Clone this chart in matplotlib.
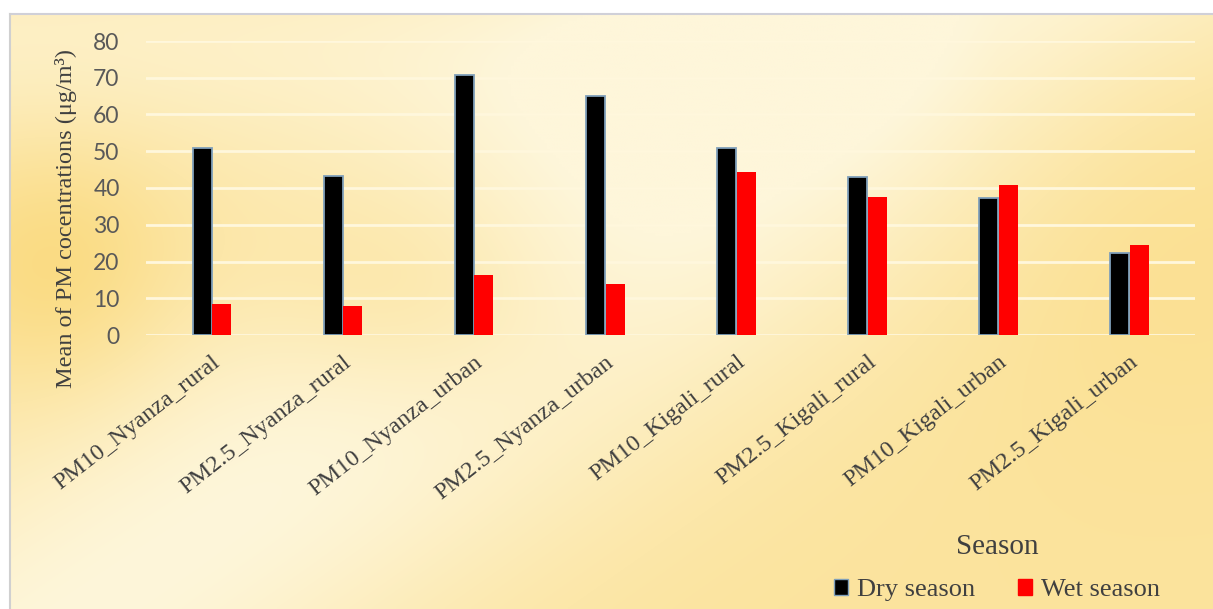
import numpy as np
import matplotlib
matplotlib.use("Agg")
import matplotlib.pyplot as plt
from matplotlib.patches import Patch

categories = ["PM10_Nyanza_rural", "PM2.5_Nyanza_rural", "PM10_Nyanza_urban",
              "PM2.5_Nyanza_urban", "PM10_Kigali_rural", "PM2.5_Kigali_rural",
              "PM10_Kigali_urban", "PM2.5_Kigali_urban"]
dry_season = [51.0, 43.3, 70.7, 65.0, 50.9, 43.0, 37.3, 22.3]
wet_season = [8.4, 7.9, 16.3, 13.9, 44.4, 37.6, 40.8, 24.5]
y_ticks = [0, 10, 20, 30, 40, 50, 60, 70, 80]

W, H = 1213, 609
fig = plt.figure(figsize=(W / 100, H / 100), dpi=100)
fig.patch.set_facecolor("white")

# background gradient panel
x0px, y0px = 10, 14
bg = fig.add_axes([x0px / W, 0, 1 - x0px / W, (H - y0px) / H], zorder=-2)
nx, ny = 400, 200
X, Y = np.meshgrid(np.linspace(x0px, W, nx), np.linspace(y0px, H, ny))
m = -0.70
d = (Y - (570 + m * (X - 150))) / np.sqrt(1 + m * m)
band = np.exp(-d ** 2 / (2 * 150 ** 2))
top = np.exp(-((Y - 40) ** 2) / (2 * 90 ** 2)) * 0.4 * np.clip((1000 - X) / 400, 0, 1)
blob1 = np.exp(-(((X - 60) / 120) ** 2 + ((Y - 270) / 130) ** 2))
blob2 = np.exp(-(((X - 420) / 160) ** 2 + ((Y - 300) / 110) ** 2))
blob3 = np.exp(-(((X - 1150) / 220) ** 2 + ((Y - 200) / 220) ** 2))
mix = np.clip(0.38 + 0.62 * band + top - 0.35 * (blob1 + blob2) - 0.15 * blob3, 0, 1)
dark = np.array([250, 216, 120]) / 255
light = np.array([254, 246, 218]) / 255
img = dark[None, None, :] + (light - dark)[None, None, :] * mix[..., None]
bg.imshow(img, aspect="auto", extent=[0, 1, 0, 1], interpolation="bilinear")
bg.set_xlim(0, 1)
bg.set_ylim(0, 1)
bg.axis("off")
fig.add_artist(plt.Line2D([x0px / W, 1], [1 - y0px / H, 1 - y0px / H],
                          color="#d0d0d8", lw=1.5, transform=fig.transFigure))
fig.add_artist(plt.Line2D([x0px / W, x0px / W], [0, 1 - y0px / H],
                          color="#d0d0d0", lw=1.5, transform=fig.transFigure))

ax = fig.add_axes([146 / W, 1 - 335 / H, (1195 - 146) / W, (335 - 41) / H])
ax.set_facecolor("none")
x = np.arange(len(categories))
bw = 0.145
ax.bar(x - bw / 2, dry_season, width=bw, color="black", edgecolor="#7f9fba",
       linewidth=1.3, zorder=3)
ax.bar(x + bw / 2 + 0.005, wet_season, width=bw, color="#ff0000", zorder=3)
ax.set_xlim(-0.5, len(categories) - 0.5)
ax.set_ylim(0, 80)
ax.set_yticks(y_ticks)
ax.set_yticklabels([str(v) for v in y_ticks], fontfamily="Lato", fontsize=16.5,
                   color="#595959")
ax.yaxis.grid(True, color="#fff7dc", linewidth=2.0, zorder=1)
ax.set_axisbelow(True)
for s in ax.spines.values():
    s.set_visible(False)
ax.tick_params(axis="both", length=0)
ax.tick_params(axis="y", pad=19)
ax.set_xticks(x)
ax.set_xticklabels(categories, rotation=38, ha="right", rotation_mode="anchor",
                   fontfamily="Liberation Serif", fontsize=17.5, color="#404040")
ax.tick_params(axis="x", pad=12)

fig.text(66 / W, 1 - 218 / H, "Mean of PM cocentrations (μg/m³)",
         fontfamily="Liberation Serif", fontsize=17.5, color="#404040",
         rotation=90, ha="center", va="center")
fig.text(997 / W, 1 - 547 / H, "Season", fontfamily="Liberation Serif",
         fontsize=21, color="#404040", ha="center", va="center")
handles = [Patch(facecolor="black", edgecolor="#7f9fba", label="Dry season"),
           Patch(facecolor="#ff0000", edgecolor="#ff0000", label="Wet season")]
fig.legend(handles=handles, loc="center", bbox_to_anchor=(997 / W, 1 - 590 / H),
           ncol=2, frameon=False, handlelength=0.55, handleheight=0.55,
           handletextpad=0.35, columnspacing=1.6,
           prop={"family": "Liberation Serif", "size": 19}, labelcolor="#404040")

fig.savefig("out.png", dpi=100, facecolor=fig.get_facecolor())
